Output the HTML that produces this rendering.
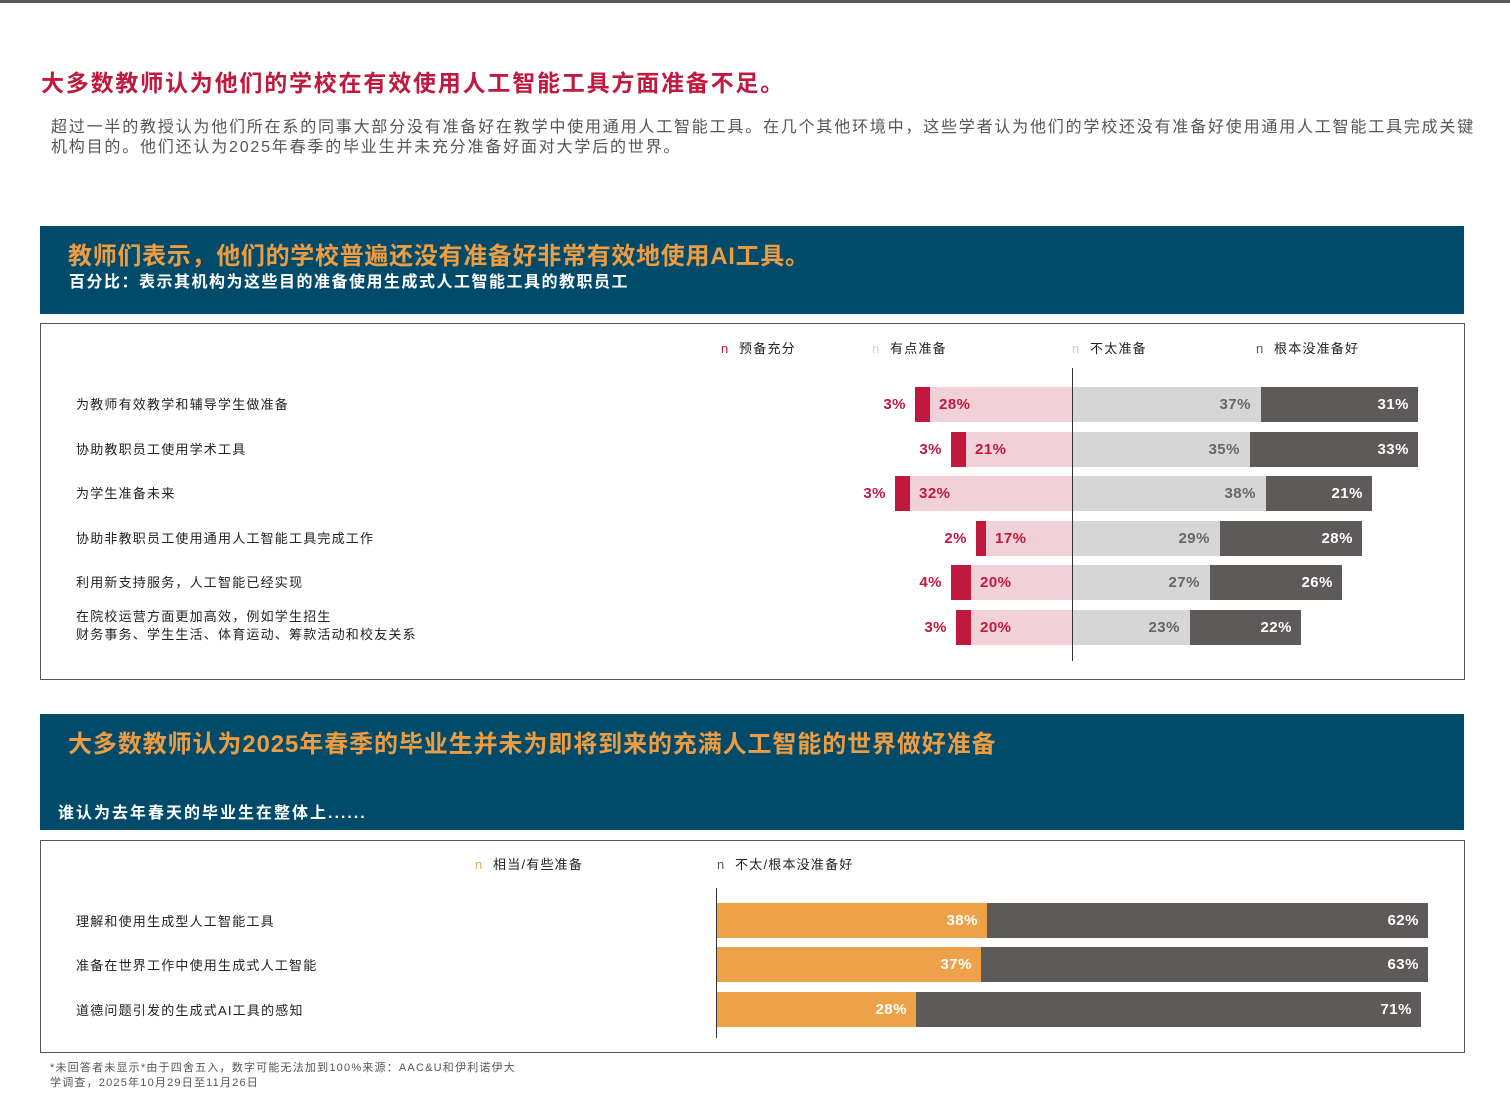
<!DOCTYPE html>
<html><head><meta charset="utf-8"><style>
*{margin:0;padding:0;box-sizing:border-box}
body{width:1510px;height:1110px;background:#fff;position:relative;overflow:hidden;font-family:"Liberation Sans","Noto Sans CJK SC",sans-serif}
.a{position:absolute;white-space:nowrap}
.b{position:absolute;height:35px}
.v{position:absolute;font-weight:bold;font-size:15px;line-height:35px;letter-spacing:0.5px}
.lab{position:absolute;font-size:13px;color:#222;white-space:nowrap;letter-spacing:1.2px}
</style></head><body>
<div class="a" style="left:0;top:0;width:1510px;height:3px;background:#5e5a59"></div>
<div class="a" style="left:41px;top:64px;font-size:23px;font-weight:bold;color:#c0193d;letter-spacing:1.8px">大多数教师认为他们的学校在有效使用人工智能工具方面准备不足。</div>
<div class="a" style="left:51px;top:118px;font-size:16px;color:#555;line-height:20px;letter-spacing:1.8px">超过一半的教授认为他们所在系的同事大部分没有准备好在教学中使用通用人工智能工具。在几个其他环境中，这些学者认为他们的学校还没有准备好使用通用人工智能工具完成关键<br>机构目的。他们还认为2025年春季的毕业生并未充分准备好面对大学后的世界。</div>

<div class="a" style="left:40px;top:226px;width:1424px;height:88px;background:#004b6a"></div>
<div class="a" style="left:68px;top:236px;font-size:24px;font-weight:bold;color:#ee9c42;letter-spacing:0.7px">教师们表示，他们的学校普遍还没有准备好非常有效地使用AI工具。</div>
<div class="a" style="left:69px;top:268px;font-size:16px;font-weight:bold;color:#fff;letter-spacing:1.5px">百分比：表示其机构为这些目的准备使用生成式人工智能工具的教职员工</div>

<div class="a" style="left:40px;top:323px;width:1425px;height:357px;border:1.5px solid #555"></div>
<div class="lab" style="left:721px;top:338px"><span style="color:#c0193d">n</span>&nbsp;&nbsp;预备充分</div>
<div class="lab" style="left:872px;top:338px"><span style="color:#f0c8d0">n</span>&nbsp;&nbsp;有点准备</div>
<div class="lab" style="left:1072px;top:338px"><span style="color:#ccc">n</span>&nbsp;&nbsp;不太准备</div>
<div class="lab" style="left:1256px;top:338px"><span style="color:#5e5a59">n</span>&nbsp;&nbsp;根本没准备好</div>

<div class="lab" style="left:76px;top:394px">为教师有效教学和辅导学生做准备</div>
<div class="lab" style="left:76px;top:439px">协助教职员工使用学术工具</div>
<div class="lab" style="left:76px;top:483px">为学生准备未来</div>
<div class="lab" style="left:76px;top:528px">协助非教职员工使用通用人工智能工具完成工作</div>
<div class="lab" style="left:76px;top:572px">利用新支持服务，人工智能已经实现</div>
<div class="lab" style="left:76px;top:608px;line-height:18px">在院校运营方面更加高效，例如学生招生<br>财务事务、学生生活、体育运动、筹款活动和校友关系</div>

<div id="c1"></div>
<div class="a" style="left:1072px;top:368px;width:1px;height:293px;background:#333"></div>

<div class="a" style="left:40px;top:714px;width:1424px;height:116px;background:#004b6a"></div>
<div class="a" style="left:68px;top:724px;font-size:24px;font-weight:bold;color:#ee9c42;letter-spacing:0.9px">大多数教师认为2025年春季的毕业生并未为即将到来的充满人工智能的世界做好准备</div>
<div class="a" style="left:58px;top:799px;font-size:16px;font-weight:bold;color:#fff;letter-spacing:2px">谁认为去年春天的毕业生在整体上......</div>

<div class="a" style="left:40px;top:840px;width:1425px;height:213px;border:1.5px solid #555"></div>
<div class="lab" style="left:475px;top:854px"><span style="color:#f0a860">n</span>&nbsp;&nbsp;相当/有些准备</div>
<div class="lab" style="left:717px;top:854px"><span style="color:#5e5a59">n</span>&nbsp;&nbsp;不太/根本没准备好</div>
<div class="lab" style="left:76px;top:911px">理解和使用生成型人工智能工具</div>
<div class="lab" style="left:76px;top:955px">准备在世界工作中使用生成式人工智能</div>
<div class="lab" style="left:76px;top:1000px">道德问题引发的生成式AI工具的感知</div>
<div id="c2"></div>
<div class="a" style="left:716px;top:888px;width:1px;height:150px;background:#333"></div>

<div class="a" style="left:50px;top:1061px;font-size:11px;color:#555;line-height:15px;letter-spacing:1.2px">*未回答者未显示*由于四舍五入，数字可能无法加到100%来源：AAC&amp;U和伊利诺伊大<br>学调查，2025年10月29日至11月26日</div>

<script>
var r=[[404,915,930,1261,1418,"3%","28%","37%","31%"],[449,951,966,1250,1418,"3%","21%","35%","33%"],[493,895,910,1266,1372,"3%","32%","38%","21%"],[538,976,986,1220,1362,"2%","17%","29%","28%"],[582,951,971,1210,1342,"4%","20%","27%","26%"],[627,956,971,1190,1301,"3%","20%","23%","22%"]];
var h="";
r.forEach(function(d){var t=d[0]-17;
h+='<div class="b" style="left:'+d[1]+'px;top:'+t+'px;width:'+(d[2]-d[1])+'px;background:#c0193d"></div>';
h+='<div class="b" style="left:'+d[2]+'px;top:'+t+'px;width:'+(1072-d[2])+'px;background:#f2d0d7"></div>';
h+='<div class="b" style="left:1072px;top:'+t+'px;width:'+(d[3]-1072)+'px;background:#d6d6d6"></div>';
h+='<div class="b" style="left:'+d[3]+'px;top:'+t+'px;width:'+(d[4]-d[3])+'px;background:#5e5a59"></div>';
h+='<div class="v" style="right:'+(1510-d[1]+9)+'px;top:'+t+'px;color:#c0193d">'+d[5]+'</div>';
h+='<div class="v" style="left:'+(d[2]+9)+'px;top:'+t+'px;color:#c0193d">'+d[6]+'</div>';
h+='<div class="v" style="right:'+(1510-d[3]+10)+'px;top:'+t+'px;color:#666">'+d[7]+'</div>';
h+='<div class="v" style="right:'+(1510-d[4]+9)+'px;top:'+t+'px;color:#fff">'+d[8]+'</div>';});
document.getElementById("c1").outerHTML=h;
var s=[[920,987,1428,"38%","62%"],[964,981,1428,"37%","63%"],[1009,916,1421,"28%","71%"]];h="";
s.forEach(function(d){var t=d[0]-17;
h+='<div class="b" style="left:717px;top:'+t+'px;width:'+(d[1]-717)+'px;background:#eda24a"></div>';
h+='<div class="b" style="left:'+d[1]+'px;top:'+t+'px;width:'+(d[2]-d[1])+'px;background:#5e5a59"></div>';
h+='<div class="v" style="right:'+(1510-d[1]+9)+'px;top:'+t+'px;color:#fff">'+d[3]+'</div>';
h+='<div class="v" style="right:'+(1510-d[2]+9)+'px;top:'+t+'px;color:#fff">'+d[4]+'</div>';});
document.getElementById("c2").outerHTML=h;
</script>
</body></html>
